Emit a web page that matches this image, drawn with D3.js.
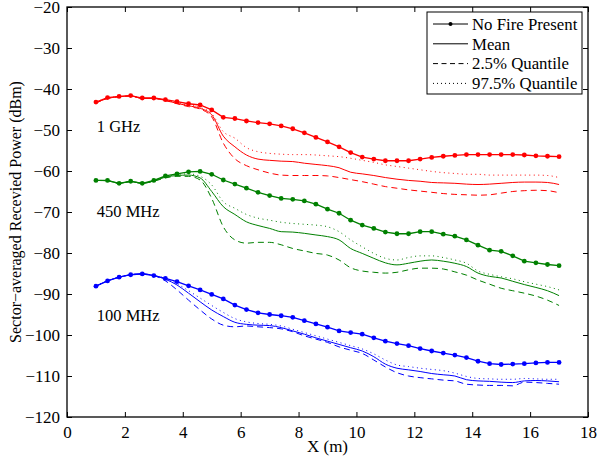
<!DOCTYPE html>
<html>
<head>
<meta charset="utf-8">
<script src="https://cdn.jsdelivr.net/npm/d3@7"></script>
<style>
  body { margin: 0; background: #fff; }
  svg text { font-family: "Liberation Serif", "Times New Roman", serif; fill: #000; }
</style>
</head>
<body>
<svg id="chart"></svg>
<script>
// x positions (m) shared by all curves
const xs = [1.0, 1.4, 1.8, 2.2, 2.6, 3.0, 3.4, 3.8, 4.2, 4.6, 5.0, 5.4, 5.8, 6.2, 6.6, 7.0, 7.4, 7.8, 8.2, 8.6,
            9.0, 9.4, 9.8, 10.2, 10.6, 11.0, 11.4, 11.8, 12.2, 12.6, 13.0, 13.4, 13.8, 14.2, 14.6, 15.0, 15.4, 15.8, 16.2, 16.6, 17.0];

// 1 GHz
const ghzNoFire = [-43.2, -42.1, -41.8, -41.6, -42.2, -42.2, -42.6, -43.1, -43.6, -43.9, -45.1, -46.9, -47.2, -47.8, -48.2, -48.5, -49.0, -49.7, -50.7, -51.8,
                   -52.9, -54.1, -55.5, -56.6, -57.1, -57.5, -57.5, -57.5, -57.1, -56.7, -56.4, -56.2, -56.0, -56.0, -56.0, -56.0, -56.0, -56.1, -56.3, -56.4, -56.5];
const ghzMean   = [-43.4, -42.3, -41.9, -41.7, -42.3, -42.3, -42.8, -43.5, -44.1, -44.7, -46.3, -51.5, -54.1, -56.1, -57.1, -57.4, -57.6, -57.7, -58.1, -58.4,
                   -58.7, -59.2, -60.3, -60.7, -61.1, -61.6, -62.0, -62.3, -62.5, -62.8, -62.9, -63.0, -63.2, -63.3, -63.2, -63.0, -62.8, -62.7, -62.7, -62.8, -63.3];
const ghzQ025   = [-43.4, -42.3, -41.9, -41.7, -42.3, -42.3, -42.8, -43.6, -44.3, -44.9, -46.8, -53.2, -57.0, -58.7, -59.7, -60.5, -61.0, -61.1, -61.1, -61.1,
                   -61.2, -61.6, -62.1, -62.6, -63.2, -63.8, -64.2, -64.6, -64.9, -65.2, -65.5, -65.7, -65.8, -65.9, -65.8, -65.4, -65.0, -64.8, -64.7, -64.8, -65.3];
const ghzQ975   = [-43.3, -42.2, -41.9, -41.7, -42.3, -42.3, -42.7, -43.4, -43.9, -44.5, -46.0, -50.4, -52.0, -54.3, -55.3, -55.7, -55.9, -56.0, -56.0, -56.1,
                   -56.3, -56.5, -56.9, -57.4, -57.9, -58.5, -58.9, -59.3, -59.7, -60.1, -60.4, -60.6, -60.8, -60.8, -61.0, -61.0, -61.0, -61.0, -61.0, -61.1, -61.6];

// 450 MHz
const mhz450NoFire = [-62.3, -62.3, -63.0, -62.5, -63.0, -62.3, -61.2, -60.7, -60.2, -60.1, -60.8, -62.2, -63.2, -64.2, -65.2, -66.0, -66.7, -66.9, -67.3, -68.1,
                      -69.3, -70.3, -72.0, -73.2, -74.0, -74.9, -75.3, -75.3, -74.8, -74.8, -75.4, -75.9, -76.8, -78.1, -79.3, -79.6, -80.7, -82.0, -82.4, -82.8, -83.1];
const mhz450Mean   = [-62.3, -62.4, -63.0, -62.6, -63.0, -62.4, -61.5, -61.1, -61.0, -61.7, -65.0, -68.7, -70.6, -72.4, -73.3, -74.0, -74.8, -74.9, -75.2, -75.6,
                      -76.0, -76.8, -78.9, -80.1, -81.3, -82.4, -82.9, -82.5, -82.0, -81.7, -82.0, -82.5, -83.3, -84.9, -85.7, -86.1, -86.9, -87.7, -88.4, -89.2, -90.4];
const mhz450Q025   = [-62.3, -62.4, -63.0, -62.6, -63.0, -62.5, -61.7, -61.3, -61.3, -62.2, -66.7, -73.6, -76.8, -77.6, -77.4, -77.4, -78.0, -78.9, -79.5, -80.1,
                      -80.5, -81.7, -83.6, -84.4, -84.7, -84.9, -84.7, -84.1, -83.7, -83.7, -83.9, -84.6, -85.4, -86.6, -87.6, -88.6, -89.2, -89.8, -90.5, -91.5, -92.8];
const mhz450Q975   = [-62.3, -62.3, -63.0, -62.5, -63.0, -62.3, -61.4, -60.9, -60.7, -61.3, -63.4, -67.5, -69.1, -70.6, -71.5, -72.0, -72.5, -72.8, -73.0, -73.2,
                      -73.6, -74.8, -76.8, -78.5, -80.1, -81.3, -81.7, -81.1, -80.7, -80.7, -81.1, -81.7, -82.5, -84.4, -85.2, -85.8, -86.3, -87.0, -87.6, -88.2, -89.0];

// 100 MHz
const mhz100NoFire = [-88.1, -86.8, -85.9, -85.3, -85.1, -85.5, -86.2, -87.0, -88.0, -89.0, -90.1, -91.2, -92.7, -93.8, -94.6, -95.0, -95.3, -95.7, -96.5, -97.3,
                      -98.1, -99.0, -99.4, -99.8, -100.7, -101.5, -102.1, -102.6, -103.3, -103.9, -104.4, -104.9, -105.5, -106.4, -107.0, -107.2, -107.1, -107.0, -106.8, -106.7, -106.7];
const mhz100Mean   = [-88.1, -86.8, -85.9, -85.3, -85.1, -85.5, -86.4, -87.8, -89.8, -91.9, -93.9, -95.5, -96.9, -97.4, -97.6, -97.7, -98.2, -99.0, -99.8, -100.7,
                      -101.5, -102.3, -103.1, -103.9, -105.3, -107.1, -108.1, -108.5, -108.9, -109.4, -109.7, -110.0, -110.9, -111.2, -111.3, -111.5, -111.6, -111.2, -111.1, -111.2, -111.4];
const mhz100Q025   = [-88.1, -86.8, -85.9, -85.3, -85.1, -85.5, -86.8, -89.0, -91.5, -93.9, -96.1, -97.6, -98.0, -97.8, -98.0, -98.2, -98.5, -99.2, -100.2, -101.0,
                      -101.8, -102.9, -103.7, -104.5, -106.1, -107.8, -109.2, -110.0, -110.4, -110.7, -111.0, -111.2, -112.0, -112.2, -112.3, -112.3, -112.4, -111.5, -111.6, -111.8, -112.0];
const mhz100Q975   = [-88.1, -86.8, -85.9, -85.3, -85.1, -85.5, -86.2, -87.5, -89.2, -91.0, -92.8, -94.5, -96.0, -96.8, -97.2, -97.4, -97.8, -98.6, -99.4, -100.2,
                      -101.0, -101.8, -102.6, -103.4, -104.6, -106.1, -107.3, -107.7, -108.1, -108.4, -108.7, -109.3, -110.1, -110.6, -110.7, -110.8, -110.8, -110.6, -110.7, -110.8, -110.8];

const xTicks = [0, 2, 4, 6, 8, 10, 12, 14, 16, 18];
const yTicks = [-120, -110, -100, -90, -80, -70, -60, -50, -40, -30, -20];
const bandLabels = ["1 GHz", "450 MHz", "100 MHz"];
const bandLabelY = [-49.2, -69.9, -95.1];
const legendLabels = ["No Fire Present", "Mean", "2.5% Quantile", "97.5% Quantile"];

// size
const width = 600, height = 459;
const margin = { top: 7, right: 12, bottom: 42, left: 67 };
const innerWidth = width - margin.left - margin.right;
const innerHeight = height - margin.top - margin.bottom;

const svg = d3.select("#chart").attr("width", width).attr("height", height);
const g = svg.append("g").attr("transform", `translate(${margin.left},${margin.top})`);

const x = d3.scaleLinear().domain([0, 18]).range([0, innerWidth]);
const y = d3.scaleLinear().domain([-120, -20]).range([innerHeight, 0]);

// axes with inward ticks on all sides
const tickLen = 5;
const fmt = d3.format("");
g.append("g").attr("transform", `translate(0,${innerHeight})`)
  .call(d3.axisBottom(x).tickValues(xTicks).tickSizeInner(-tickLen).tickSizeOuter(0).tickPadding(9).tickFormat(fmt))
  .call(a => a.select(".domain").remove())
  .selectAll("text").style("font-size", "17px");
g.append("g")
  .call(d3.axisTop(x).tickValues(xTicks).tickSizeInner(-tickLen).tickSizeOuter(0))
  .call(a => a.select(".domain").remove())
  .call(a => a.selectAll("text").remove());
g.append("g")
  .call(d3.axisLeft(y).tickValues(yTicks).tickSizeInner(-tickLen).tickSizeOuter(0).tickPadding(7).tickFormat(fmt))
  .call(a => a.select(".domain").remove())
  .selectAll("text").style("font-size", "17px");
g.append("g").attr("transform", `translate(${innerWidth},0)`)
  .call(d3.axisRight(y).tickValues(yTicks).tickSizeInner(-tickLen).tickSizeOuter(0))
  .call(a => a.select(".domain").remove())
  .call(a => a.selectAll("text").remove());
g.selectAll(".tick line").attr("stroke", "#000");

g.append("rect")
  .attr("width", innerWidth).attr("height", innerHeight)
  .attr("fill", "none").attr("stroke", "#000").attr("stroke-width", 1.3);

// series
const bands = [
  { color: "#ff0000", noFire: ghzNoFire, mean: ghzMean, q025: ghzQ025, q975: ghzQ975 },
  { color: "#008000", noFire: mhz450NoFire, mean: mhz450Mean, q025: mhz450Q025, q975: mhz450Q975 },
  { color: "#0000ff", noFire: mhz100NoFire, mean: mhz100Mean, q025: mhz100Q025, q975: mhz100Q975 }
];

const lineStraight = d3.line().x((d, i) => x(xs[i])).y(d => y(d));
const lineSmooth = d3.line().x((d, i) => x(xs[i])).y(d => y(d)).curve(d3.curveMonotoneX);

bands.forEach(b => {
  g.append("path").attr("d", lineSmooth(b.q975)).attr("fill", "none")
    .attr("stroke", b.color).attr("stroke-width", 1).attr("stroke-dasharray", "1,3.5");
  g.append("path").attr("d", lineSmooth(b.q025)).attr("fill", "none")
    .attr("stroke", b.color).attr("stroke-width", 1).attr("stroke-dasharray", "6,4");
  g.append("path").attr("d", lineSmooth(b.mean)).attr("fill", "none")
    .attr("stroke", b.color).attr("stroke-width", 1);
  g.append("path").attr("d", lineStraight(b.noFire)).attr("fill", "none")
    .attr("stroke", b.color).attr("stroke-width", 1.3);
  g.selectAll(null).data(b.noFire).enter().append("circle")
    .attr("cx", (d, i) => x(xs[i])).attr("cy", d => y(d))
    .attr("r", 2.4).attr("fill", b.color);
});

// band labels
g.selectAll(".band-label").data(bandLabels).enter().append("text")
  .attr("class", "band-label")
  .attr("x", x(1.03)).attr("y", (d, i) => y(bandLabelY[i]))
  .attr("dy", "0.35em").style("font-size", "16.5px")
  .text(d => d);

// axis titles
svg.append("text")
  .attr("x", margin.left + innerWidth / 2).attr("y", 452)
  .attr("text-anchor", "middle").style("font-size", "17px")
  .text("X (m)");
svg.append("text")
  .attr("transform", `translate(15,${margin.top + innerHeight / 2}) rotate(-90)`)
  .attr("text-anchor", "middle").attr("dy", "0.35em").style("font-size", "16px")
  .text("Sector\u2212averaged Recevied Power (dBm)");

// legend
const legend = svg.append("g").attr("transform", "translate(427,12)");
legend.append("rect").attr("width", 155).attr("height", 82)
  .attr("fill", "#fff").attr("stroke", "#000").attr("stroke-width", 1);
const dashes = [null, null, "5,3.5", "1,3"];
legendLabels.forEach((lab, i) => {
  const ly = 12 + i * 19.8;
  legend.append("line").attr("x1", 6).attr("x2", 41).attr("y1", ly).attr("y2", ly)
    .attr("stroke", "#000").attr("stroke-width", i === 0 ? 1.2 : 1)
    .attr("stroke-dasharray", dashes[i]);
  if (i === 0) legend.append("circle").attr("cx", 23.5).attr("cy", ly).attr("r", 2).attr("fill", "#000");
  legend.append("text").attr("x", 45).attr("y", ly).attr("dy", "0.35em")
    .style("font-size", "16.8px").text(lab);
});
</script>
</body>
</html>
